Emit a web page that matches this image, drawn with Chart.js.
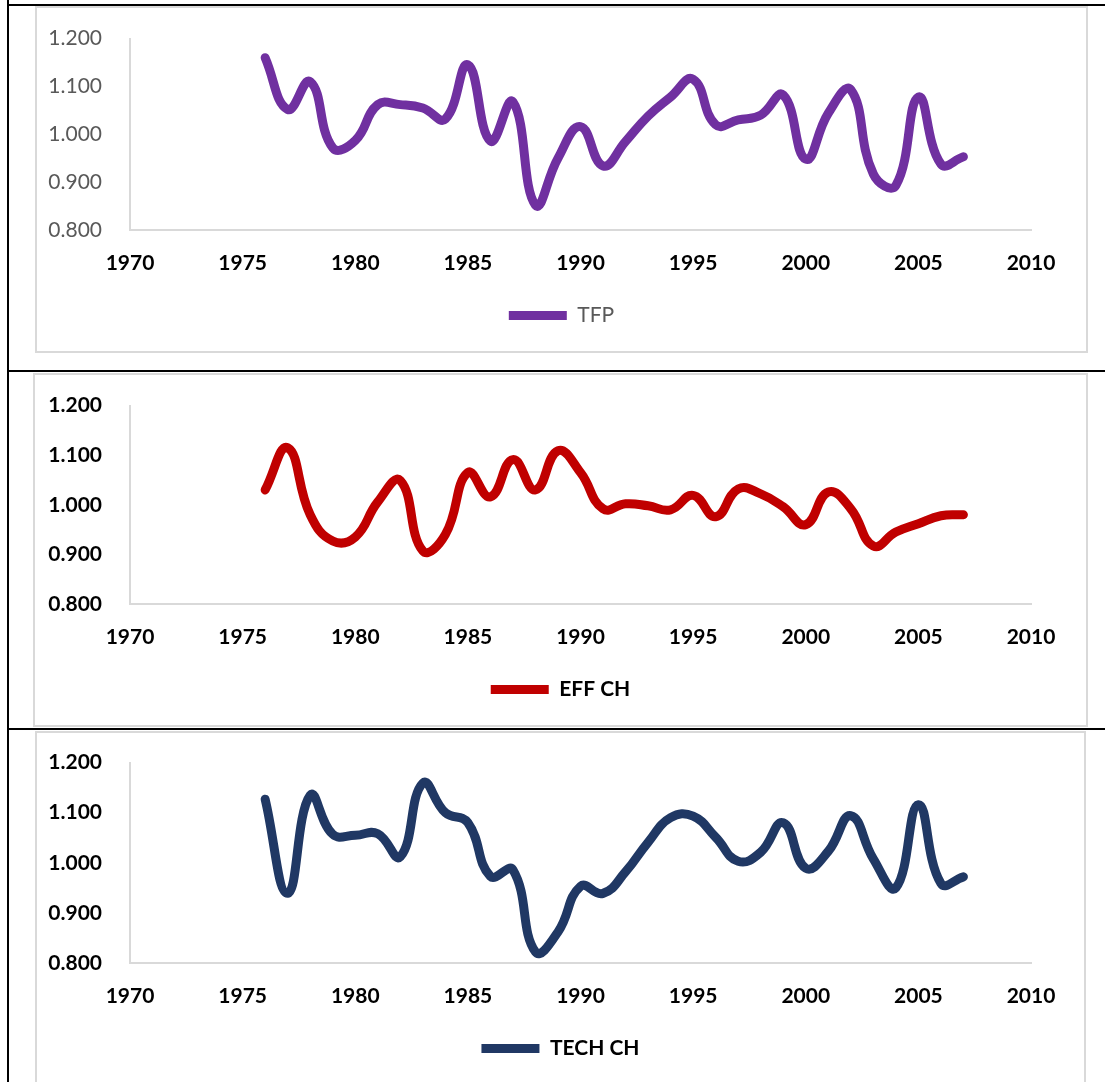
<!DOCTYPE html>
<html>
<head>
<meta charset="utf-8">
<script src="https://cdn.jsdelivr.net/npm/chart.js@4.4.1/dist/chart.umd.min.js"></script>
<style>
  body { margin: 0; background: #fff; width: 1105px; height: 1082px; overflow: hidden; position: relative; font-family: Lato, sans-serif; }
  .rule { position: absolute; background: #000; }
  .box { position: absolute; border: 2px solid #d9d9d9; box-sizing: border-box; }
  canvas { position: absolute; }
</style>
</head>
<body>
<div class="rule" style="left:7px; top:0; width:2px; height:1082px;"></div>
<div class="rule" style="left:7px; top:4px; width:1098px; height:2px;"></div>
<div class="rule" style="left:7px; top:370px; width:1098px; height:2px;"></div>
<div class="rule" style="left:7px; top:728px; width:1098px; height:2px;"></div>

<div class="box" style="left:35px; top:6px; width:1053px; height:347px;"></div>
<div class="box" style="left:33px; top:373px; width:1055px; height:354px;"></div>
<div class="box" style="left:35px; top:731px; width:1051px; height:360px;"></div>

<canvas id="tfp" width="1053" height="347" style="left:35px; top:6px;"></canvas>
<canvas id="eff" width="1055" height="354" style="left:33px; top:373px;"></canvas>
<canvas id="tech" width="1051" height="360" style="left:35px; top:730px;"></canvas>

<script>
// 연도 (1976 - 2007)
const years = [1976, 1977, 1978, 1979, 1980, 1981, 1982, 1983, 1984, 1985,
               1986, 1987, 1988, 1989, 1990, 1991, 1992, 1993, 1994, 1995,
               1996, 1997, 1998, 1999, 2000, 2001, 2002, 2003, 2004, 2005,
               2006, 2007];

// 시리즈 값
const tfpValues = [1.160, 1.052, 1.110, 0.972, 0.987, 1.062, 1.062, 1.055, 1.032, 1.145,
                   0.986, 1.068, 0.852, 0.950, 1.016, 0.934, 0.985, 1.038, 1.078, 1.115,
                   1.020, 1.030, 1.040, 1.082, 0.948, 1.044, 1.093, 0.917, 0.893, 1.078,
                   0.938, 0.953];
const effValues = [1.030, 1.115, 0.980, 0.927, 0.935, 1.006, 1.049, 0.907, 0.940, 1.065,
                   1.016, 1.091, 1.030, 1.109, 1.065, 0.992, 1.002, 0.998, 0.990, 1.019,
                   0.976, 1.032, 1.022, 0.996, 0.960, 1.026, 0.992, 0.917, 0.945, 0.962,
                   0.978, 0.980];
const techValues = [1.127, 0.939, 1.135, 1.057, 1.055, 1.058, 1.012, 1.159, 1.100, 1.080,
                    0.973, 0.986, 0.822, 0.862, 0.953, 0.939, 0.982, 1.041, 1.090, 1.093,
                    1.051, 1.003, 1.021, 1.080, 0.989, 1.023, 1.094, 1.008, 0.950, 1.116,
                    0.959, 0.972];

// 축 눈금
const xTicks = [1970, 1975, 1980, 1985, 1990, 1995, 2000, 2005, 2010];
const yTicks = [0.800, 0.900, 1.000, 1.100, 1.200];

// 차트 생성
function makeChart(id, label, values, color, opts) {
    const ctx = document.getElementById(id).getContext('2d');
    return new Chart(ctx, {
        type: 'line',
        data: {
            datasets: [{
                label: label,
                data: years.map((yr, i) => ({ x: yr, y: values[i] })),
                borderColor: color,
                backgroundColor: color,
                borderWidth: 9,
                borderCapStyle: 'round',
                borderJoinStyle: 'round',
                pointRadius: 0,
                tension: 0.45,
                fill: false
            }]
        },
        options: {
            responsive: false,
            animation: false,
            layout: { padding: { left: 0, top: opts.top, right: 0, bottom: opts.bottom } },
            scales: {
                x: {
                    type: 'linear',
                    min: xTicks[0],
                    max: xTicks[xTicks.length - 1],
                    afterBuildTicks: s => { s.ticks = xTicks.map(v => ({ value: v })); },
                    afterFit: s => { s.height = 65; },
                    grid: { display: false },
                    border: { display: true, color: '#d9d9d9', width: 2 },
                    ticks: {
                        padding: 13,
                        color: '#000',
                        font: { family: 'Lato', size: 21, weight: 'bold' },
                        callback: v => String(v)
                    }
                },
                y: {
                    min: yTicks[0],
                    max: yTicks[yTicks.length - 1],
                    afterBuildTicks: s => { s.ticks = yTicks.map(v => ({ value: v })); },
                    afterFit: s => { s.width = opts.left; },
                    grid: { display: false },
                    border: { display: true, color: '#d9d9d9', width: 2 },
                    ticks: {
                        padding: 20,
                        color: opts.yColor,
                        font: { family: 'Lato', size: 21, weight: opts.yWeight },
                        callback: v => v.toFixed(3)
                    }
                },
                // 오른쪽 여백용 빈 축
                yRight: {
                    position: 'right',
                    afterFit: s => { s.width = opts.right; },
                    grid: { display: false },
                    border: { display: false },
                    ticks: { display: false }
                }
            },
            plugins: {
                tooltip: { enabled: false },
                legend: {
                    display: true,
                    position: 'bottom',
                    labels: {
                        boxWidth: 58,
                        boxHeight: 9,
                        useBorderRadius: true,
                        borderRadius: 4.5,
                        padding: 10,
                        color: opts.legendColor,
                        font: { family: 'Lato', size: 21, weight: opts.legendWeight },
                        generateLabels: () => [{
                            text: label,
                            fillStyle: color,
                            strokeStyle: color,
                            lineWidth: 0,
                            hidden: false,
                            datasetIndex: 0,
                            fontColor: opts.legendColor
                        }]
                    }
                }
            }
        }
    });
}

makeChart('tfp', 'TFP', tfpValues, '#7030a0',
    { left: 95, top: 30, right: 57, bottom: 17, yColor: '#595959', yWeight: 'normal', legendColor: '#595959', legendWeight: 'normal' });
makeChart('eff', 'EFF CH', effValues, '#c00000',
    { left: 97, top: 29, right: 57, bottom: 17, yColor: '#000', yWeight: 'bold', legendColor: '#000', legendWeight: 'bold' });
makeChart('tech', 'TECH CH', techValues, '#203864',
    { left: 95, top: 29, right: 55, bottom: 21, yColor: '#000', yWeight: 'bold', legendColor: '#000', legendWeight: 'bold' });
</script>
</body>
</html>
